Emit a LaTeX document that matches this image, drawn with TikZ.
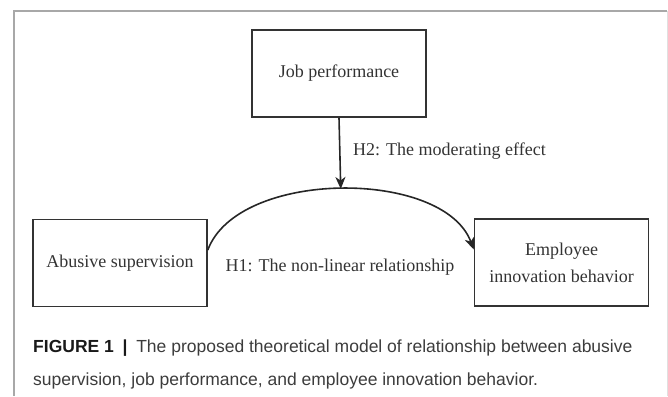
\documentclass[tikz,border=0pt]{standalone}
\usepackage{fontspec}
\setmainfont{Liberation Serif}
\newfontfamily\capfont{Liberation Sans}
\usetikzlibrary{arrows.meta}

\definecolor{framegray}{HTML}{A8A8A8}
\definecolor{inkgray}{HTML}{333333}
\definecolor{capgray}{HTML}{3C3C3C}

\begin{document}
\begin{tikzpicture}[x=1pt,y=-1pt,
    block/.style={draw=inkgray, line width=1.6pt, minimum width=174pt,
      minimum height=87pt, inner sep=0pt, align=center, text=inkgray,
      font=\fontsize{18}{27}\selectfont},
    hlabel/.style={text=inkgray, inner sep=0pt, font=\fontsize{18}{22}\selectfont},
    link/.style={draw=black!85, line width=1.6pt, -{Stealth[length=12pt,width=10pt,inset=3.5pt]}},
    capline/.style={inner sep=0pt, text=capgray, font=\capfont\fontsize{17.5}{22}\selectfont}]
\useasboundingbox (0,0) rectangle (668,396);

% frame round the figure
\draw[framegray, line width=1.5pt] (14,396) -- (14,11) -- (667,11);
\draw[black!12, line width=1pt] (667,11) -- (667,396);

% the three variables
\node[block] (jobp) at (339,73.5) {Job performance};
\node[block] (abuse) at (120,263) {Abusive supervision};
\node[block] (emp) at (561.5,262.5) {Employee\\innovation behavior};

% hypotheses
\draw[link] ([yshift=13pt]abuse.east) .. controls +(30,-81) and +(-30,-81) .. ([yshift=13pt]emp.west)
    coordinate[pos=0.5] (arctop);
\draw[link] (jobp.south) -- (arctop);
\node[hlabel, anchor=west] (h2) at (353,151) {H2: The moderating effect};
\node[hlabel] (h1) at (340,267) {H1: The non-linear relationship};

% caption
\node[capline, anchor=base west] (cap1) at (33,352)
    {{\bfseries\color{black!90}FIGURE 1\enspace|}\enspace The proposed theoretical model of relationship between abusive};
\node[capline, anchor=base west] (cap2) at ([yshift=-33pt]cap1.base west)
    {supervision, job performance, and employee innovation behavior.};
\end{tikzpicture}
\end{document}
